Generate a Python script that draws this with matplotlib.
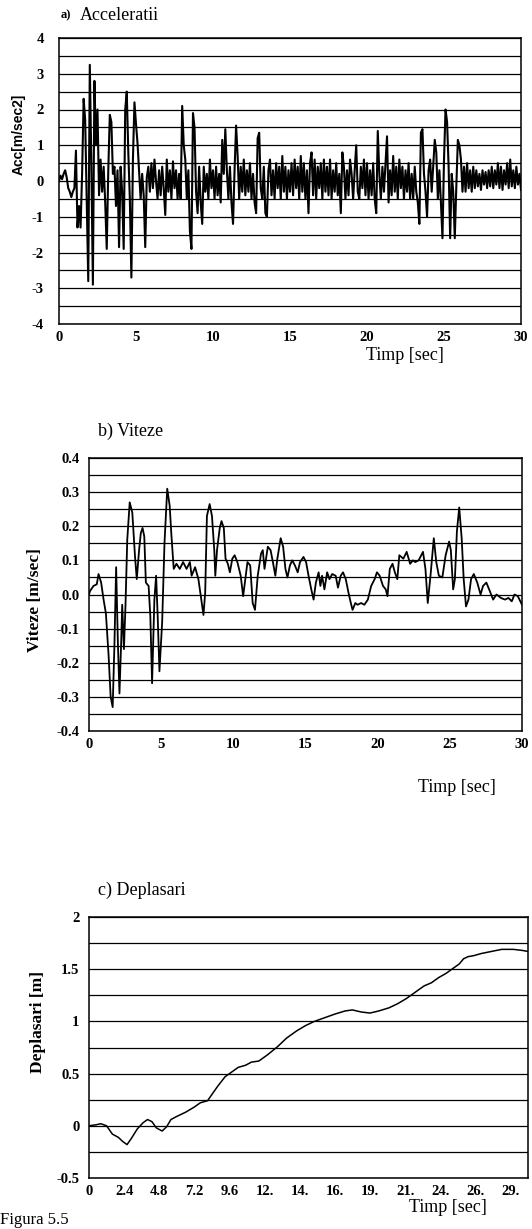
import matplotlib
matplotlib.use('Agg')
import matplotlib.pyplot as plt
import numpy as np

plt.rcParams['axes.unicode_minus'] = False

# a) acceleratii, sampled every 0.1 s (values read off the record)
acc = [
    0.0, 0.15, 0.05, 0.2, 0.3, 0.1, -0.2, -0.3, -0.45, -0.3,
    -0.2, 0.85, -1.3, -0.7, -1.3, 0.2, 2.3, 1.7, -0.6, -2.8,
    3.25, 0.5, -2.9, 2.8, 1.0, 2.0, -0.4, 0.6, -0.3, 0.4,
    -0.6, -1.9, 0.3, 1.85, 1.65, 0.2, 0.4, -0.7, 0.3, -1.85,
    0.4, -0.3, -1.9, 2.0, 2.5, 0.8, -0.5, -2.7, 0.6, 2.2,
    1.6, 1.05, 0.3, -0.5, 0.2, -0.4, -1.85, 0.1, 0.4, -0.3,
    0.5, -0.2, 0.6, 0.0, -0.5, 0.3, -0.4, 0.4, -0.2, -0.95,
    0.6, -0.3, 0.3, -0.5, 0.55, -0.2, 0.3, -0.5, 0.2, -0.5,
    2.1, 1.0, 0.6, -0.5, 0.3, -1.4, -1.9, 1.9, 1.5, -0.3,
    -0.9, 0.4, -0.6, -1.2, 0.4, -0.3, 0.2, -0.5, 0.6, -0.2,
    0.3, -0.5, 0.4, -0.4, 0.2, -0.6, 1.15, 0.2, 1.45, 0.3,
    -0.5, 0.4, -0.6, -1.2, 0.3, 1.55, 0.7, -0.5, 0.4, -0.3,
    0.6, -0.4, 0.3, -0.3, 0.5, -0.5, 0.2, -0.6, -0.9, 1.2,
    1.35, -0.2, -0.5, 0.4, -0.9, -1.0, 0.3, 0.6, -0.4, 0.3,
    -0.5, 0.5, -0.2, 0.4, -0.5, 0.7, -0.3, 0.4, -0.5, 0.3,
    -0.3, 0.5, -0.4, 0.6, -0.2, 0.4, -0.5, 0.7, -0.3, 0.5,
    -0.5, 0.3, -0.9, 0.5, 0.8, -0.4, 0.6, -0.5, 0.4, -0.2,
    0.5, -0.5, 0.6, -0.3, 0.4, -0.4, 0.6, -0.5, 0.3, -0.3,
    0.5, -0.4, 0.2, -0.9, 0.8, 0.4, -0.5, 0.3, -0.4, 0.6,
    0.2, -0.5, 0.3, 1.0, -0.3, -0.5, 0.4, -0.2, 0.6, -0.4,
    0.5, -0.5, 0.3, -0.4, 0.5, -0.5, -0.9, 1.4, 0.2, -0.5,
    0.4, -0.3, 0.5, 1.25, -0.6, 0.3, -0.4, 0.7, -0.3, 0.4,
    -0.5, 0.6, -0.2, 0.4, -0.5, 0.3, -0.3, 0.5, -0.5, 0.2,
    -0.5, 0.4, -0.3, -0.6, -1.2, 1.35, 1.45, 0.2, -0.3, -1.0,
    0.3, 0.6, -0.3, 0.4, 1.15, 0.8, -0.5, 0.3, -0.6, -1.6,
    0.6, 2.0, 1.65, 0.4, -1.6, 0.2, -0.3, -1.6, -0.15, 1.15,
    1.0, 0.6, -0.3, 0.4, -0.3, 0.5, -0.2, 0.3, -0.3, 0.4,
    -0.2, 0.3, -0.15, 0.2, -0.25, 0.3, -0.1, 0.25, -0.2, 0.3,
    -0.15, 0.4, -0.2, 0.3, -0.1, 0.5, -0.2, 0.4, -0.25, 0.3,
    -0.1, 0.5, -0.2, 0.6, -0.15, 0.3, -0.2, 0.4, -0.1, 0.2,
    -0.25,
]
t_acc = np.arange(len(acc)) * 0.1
acc_yticks = [-4, -3, -2, -1, 0, 1, 2, 3, 4]

# b) viteze
t_vit = [0.0, 0.07, 0.31, 0.54, 0.66, 0.84, 1.01, 1.17, 1.24, 1.36, 1.50, 1.64, 1.76, 1.88,
         2.00, 2.11, 2.23, 2.30, 2.42, 2.53, 2.65, 2.82, 3.00, 3.19, 3.31, 3.47, 3.59, 3.71,
         3.83, 3.94, 4.13, 4.25, 4.37, 4.53, 4.65, 4.76, 4.88, 5.07, 5.23, 5.35, 5.42, 5.59,
         5.70, 5.87, 6.06, 6.29, 6.52, 6.76, 6.99, 7.11, 7.35, 7.58, 7.75, 7.93, 8.05, 8.17,
         8.36, 8.52, 8.68, 8.75, 8.87, 9.06, 9.18, 9.34, 9.46, 9.62, 9.76, 9.93, 10.09, 10.28,
         10.51, 10.68, 10.80, 10.98, 11.17, 11.34, 11.50, 11.69, 11.92, 12.04, 12.16, 12.39,
         12.58, 12.74, 12.91, 13.05, 13.28, 13.45, 13.61, 13.75, 13.92, 14.08, 14.27, 14.46,
         14.62, 14.86, 15.04, 15.21, 15.40, 15.56, 15.72, 15.91, 16.03, 16.15, 16.31, 16.50,
         16.66, 16.85, 17.09, 17.25, 17.44, 17.60, 17.79, 17.98, 18.14, 18.26, 18.45, 18.61,
         18.85, 19.08, 19.32, 19.55, 19.79, 19.95, 20.14, 20.37, 20.56, 20.68, 20.84, 21.03,
         21.19, 21.36, 21.50, 21.78, 22.01, 22.25, 22.44, 22.60, 22.84, 23.14, 23.31, 23.47,
         23.66, 23.89, 24.06, 24.24, 24.48, 24.71, 24.95, 25.07, 25.23, 25.35, 25.49, 25.65,
         25.82, 25.96, 26.12, 26.29, 26.47, 26.66, 26.90, 27.13, 27.30, 27.53, 27.77, 28.00,
         28.23, 28.54, 28.82, 29.06, 29.29, 29.48, 29.71, 30.00]
vit = [0.0, 0.01, 0.025, 0.03, 0.06, 0.035, -0.015, -0.055, -0.10, -0.18, -0.30, -0.33, -0.15, 0.08,
       -0.14, -0.29, -0.14, -0.03, -0.16, -0.03, 0.16, 0.27, 0.24, 0.11, 0.045, 0.13, 0.18, 0.195,
       0.17, 0.035, 0.025, -0.065, -0.26, -0.015, 0.055, -0.065, -0.225, -0.08, 0.15, 0.25, 0.31, 0.26,
       0.18, 0.075, 0.09, 0.075, 0.095, 0.075, 0.095, 0.055, 0.08, 0.045, -0.005, -0.06, 0.005, 0.23,
       0.265, 0.23, 0.13, 0.055, 0.13, 0.195, 0.215, 0.195, 0.105, 0.09, 0.065, 0.105, 0.115, 0.095,
       0.055, -0.005, 0.035, 0.095, 0.085, -0.025, -0.045, 0.055, 0.12, 0.13, 0.075, 0.14,
       0.13, 0.095, 0.055, 0.105, 0.165, 0.14, 0.075, 0.05, 0.085, 0.10, 0.085, 0.065,
       0.095, 0.11, 0.095, 0.055, 0.015, -0.015, 0.035, 0.065, 0.025, 0.055, 0.015, 0.065,
       0.045, 0.06, 0.055, 0.02, 0.055, 0.065, 0.045, 0.005, -0.025, -0.045, -0.025, -0.03,
       -0.025, -0.03, -0.015, 0.025, 0.045, 0.065, 0.055, 0.025, 0.015, -0.005, 0.075, 0.09,
       0.065, 0.045, 0.115, 0.105, 0.125, 0.09, 0.10, 0.095, 0.10, 0.125, 0.075, -0.025,
       0.055, 0.165, 0.095, 0.055, 0.05, 0.115, 0.155, 0.13, 0.015, 0.045, 0.185, 0.255,
       0.165, 0.045, -0.035, -0.015, 0.045, 0.06, 0.035, 0.0, 0.025, 0.035, 0.01, -0.015,
       0.0, -0.01, -0.015, -0.01, -0.02, 0.0, -0.005, -0.03]
vit_yticks = [-0.4, -0.3, -0.2, -0.1, 0.0, 0.1, 0.2, 0.3, 0.4]
vit_yticklabels = ['-0.4', '-0.3', '-0.2', '-0.1', '0.0', '0.1', '0.2', '0.3', '0.4']

# c) deplasari
t_dep = [0.0, 0.5, 0.8, 1.2, 1.6, 2.0, 2.3, 2.6, 2.9, 3.3, 3.7, 4.0, 4.3, 4.6, 5.0, 5.3, 5.6,
         6.0, 6.6, 7.2, 7.6, 8.1, 8.4, 8.8, 9.3, 9.7, 10.2, 10.7, 11.1, 11.6, 12.2, 12.9,
         13.5, 14.2, 14.8, 15.4, 16.0, 16.8, 17.5, 18.0, 18.6, 19.2, 19.8, 20.5, 21.1, 21.7,
         22.3, 22.9, 23.4, 23.9, 24.4, 24.9, 25.3, 25.6, 25.9, 26.3, 26.8, 27.5, 28.2, 29.0,
         29.6, 30.0]
dep = [0.0, 0.01, 0.02, 0.0, -0.08, -0.11, -0.15, -0.18, -0.12, -0.03, 0.03, 0.06, 0.04,
       -0.02, -0.05, -0.01, 0.06, 0.09, 0.13, 0.18, 0.22, 0.24, 0.30, 0.38, 0.47, 0.51, 0.56,
       0.58, 0.61, 0.62, 0.68, 0.76, 0.84, 0.91, 0.96, 1.0, 1.03, 1.07, 1.10, 1.11, 1.09,
       1.08, 1.10, 1.13, 1.17, 1.22, 1.28, 1.34, 1.37, 1.42, 1.46, 1.51, 1.55, 1.60, 1.62,
       1.63, 1.65, 1.67, 1.69, 1.69, 1.68, 1.67]
dep_yticks = [-0.5, 0, 0.5, 1, 1.5, 2]
dep_yticklabels = ['-0.5', '0', '0.5', '1', '1.5', '2']
dep_ticks = [0, 2.4, 4.8, 7.2, 9.6, 12.0, 14.4, 16.8, 19.2, 21.6, 24.0, 26.4, 28.8]
dep_ticklabels = ['0', '2.4', '4.8', '7.2', '9.6', '12.', '14.', '16.', '19.', '21.', '24.', '26.', '29.']

W, H = 532, 1229
SERIF = 'Liberation Serif'
SANS = 'Liberation Sans'


def box(x0, x1, y0, y1):
    return [x0 / W, 1 - y1 / H, (x1 - x0) / W, (y1 - y0) / H]


def pt(x, y):
    return x / W, 1 - y / H


def style(ax, major, labels, minor, ypad):
    ax.set_yticks(major)
    ax.set_yticklabels(labels)
    ax.set_yticks(minor, minor=True)
    ax.grid(True, axis='y', which='both', color='black', lw=0.9)
    ax.set_axisbelow(True)
    ax.tick_params(which='both', length=0)
    ax.tick_params(axis='y', pad=ypad)
    ax.tick_params(axis='x', pad=5)
    for s in ax.spines.values():
        s.set_linewidth(1.1)
    for lab in ax.get_xticklabels() + ax.get_yticklabels():
        lab.set_fontfamily(SERIF)
        lab.set_fontweight('bold')
        lab.set_fontsize(10.5)


fig = plt.figure(figsize=(W / 100, H / 100), dpi=100)

# a) Acceleratii
ax1 = fig.add_axes(box(59, 521, 38, 324))
ax1.plot(t_acc, acc, color='black', lw=1.5)
ax1.set_xlim(0, 30)
ax1.set_ylim(-4, 4)
ax1.set_xticks([0, 5, 10, 15, 20, 25, 30])
style(ax1, acc_yticks, [str(v) for v in acc_yticks], np.arange(-3.5, 4, 1.0), 11)
fig.text(*pt(61, 15), 'a)', fontfamily=SERIF, fontweight='bold', fontsize=9, va='center')
fig.text(*pt(80, 15), 'Acceleratii', fontfamily=SERIF, fontsize=13, va='center')
fig.text(*pt(19, 134), 'Acc[m/sec2]', fontfamily=SANS, fontweight='bold', fontsize=10,
         rotation=90, ha='center', va='center')
fig.text(*pt(405, 356), 'Timp [sec]', fontfamily=SERIF, fontsize=13, ha='center', va='center')

# b) Viteze
ax2 = fig.add_axes(box(89, 522, 458, 731))
ax2.plot(t_vit, vit, color='black', lw=1.3)
ax2.set_xlim(0, 30)
ax2.set_ylim(-0.4, 0.4)
ax2.set_xticks([0, 5, 10, 15, 20, 25, 30])
style(ax2, vit_yticks, vit_yticklabels, np.arange(-0.35, 0.4, 0.1), 7)
fig.text(*pt(98, 431), 'b) Viteze', fontfamily=SERIF, fontsize=13, va='center')
fig.text(*pt(35, 600), 'Viteze [m/sec]', fontfamily=SERIF, fontweight='bold', fontsize=12.5,
         rotation=90, ha='center', va='center')
fig.text(*pt(457, 787), 'Timp [sec]', fontfamily=SERIF, fontsize=13, ha='center', va='center')

# c) Deplasari
ax3 = fig.add_axes(box(89, 528, 917, 1178))
ax3.plot(t_dep, dep, color='black', lw=1.1)
ax3.set_xlim(0, 30)
ax3.set_ylim(-0.5, 2)
ax3.set_xticks(dep_ticks)
ax3.set_xticklabels(dep_ticklabels)
style(ax3, dep_yticks, dep_yticklabels, np.arange(-0.25, 2, 0.5), 7)
fig.text(*pt(98, 890), 'c) Deplasari', fontfamily=SERIF, fontsize=13, va='center')
fig.text(*pt(38, 1022), 'Deplasari [m]', fontfamily=SERIF, fontweight='bold', fontsize=12.5,
         rotation=90, ha='center', va='center')
fig.text(*pt(448, 1207), 'Timp [sec]', fontfamily=SERIF, fontsize=13, ha='center', va='center')

fig.text(*pt(0, 1228), 'Figura 5.5', fontfamily=SERIF, fontsize=12, va='bottom')

fig.savefig('out.png', dpi=100)
